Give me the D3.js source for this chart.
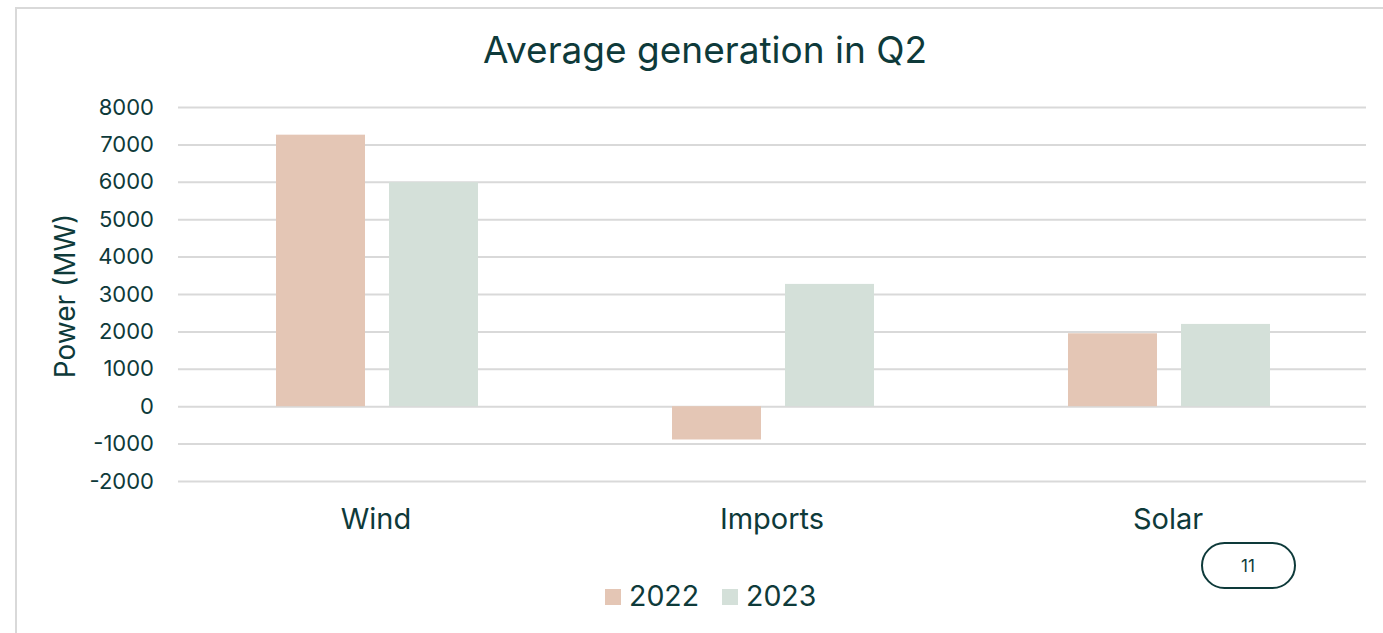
<!DOCTYPE html>
<html><head><meta charset="utf-8">
<script src="https://cdn.jsdelivr.net/npm/d3@7"></script>
<style>body{margin:0;background:#fff;}svg{display:block;font-family:Inter,"Open Sans",sans-serif;}</style>
</head><body><svg id="c" width="1383" height="633"></svg>
<script>
const categories = ["Wind","Imports","Solar"];
const seriesNames = ["2022","2023"];
const values2022 = [7260, -890, 1950];
const values2023 = [5990, 3270, 2200];
const yTicks = [-2000,-1000,0,1000,2000,3000,4000,5000,6000,7000,8000];
const colors = ["#e4c6b5","#d4e0d9"];
const textColor = "#0e3a3a";
const FONT = "Inter, 'Open Sans', sans-serif";

const svg = d3.select("#c");
// frame
svg.append("path").attr("d","M16,633 L16,8 L1383,8").attr("fill","none").attr("stroke","#d9d9d9").attr("stroke-width",2);

const x = d3.scaleBand().domain(categories).range([178,1366]);
const y = d3.scaleLinear().domain([-2000,8000]).range([481,107]);
const x1 = d3.scaleBand().domain(seriesNames).range([98,300]).paddingInner(24/113).paddingOuter(0);

svg.append("text").attr("x",705).attr("y",63).attr("text-anchor","middle").attr("font-size",37).attr("fill",textColor).text("Average generation in Q2");

const yAxis = svg.append("g").attr("transform","translate(178,0)")
  .call(d3.axisLeft(y).tickValues(yTicks).tickSize(-1188).tickFormat(d => String(d)).tickPadding(24));
yAxis.select(".domain").remove();
yAxis.selectAll("line").attr("stroke","#d9d9d9").attr("stroke-width",2);
yAxis.selectAll("text").attr("font-size",22).attr("fill",textColor).attr("font-family",FONT);

svg.append("text").attr("transform","translate(75,296) rotate(-90)").attr("text-anchor","middle")
  .attr("font-size",28).attr("fill",textColor).text("Power (MW)");

const data = categories.map((c,i)=>({cat:c, vals:[values2022[i], values2023[i]]}));
const g = svg.append("g");
data.forEach(d=>{
  d.vals.forEach((v,j)=>{
    g.append("rect").attr("x",x(d.cat)+x1(seriesNames[j])).attr("width",x1.bandwidth())
      .attr("y",y(Math.max(0,v))).attr("height",Math.abs(y(v)-y(0))).attr("fill",colors[j]);
  });
});

const xAxis = svg.append("g").attr("transform","translate(0,481)")
  .call(d3.axisBottom(x).tickSize(0).tickPadding(0));
xAxis.select(".domain").remove();
xAxis.selectAll("text").attr("dy",null).attr("y",48).attr("font-size",29).attr("fill",textColor).attr("font-family",FONT);

// legend
const leg = svg.append("g");
const legX = [605,722];
seriesNames.forEach((s,i)=>{
  leg.append("rect").attr("x",legX[i]).attr("y",589).attr("width",16).attr("height",16).attr("fill",colors[i]);
  leg.append("text").attr("x",legX[i]+24).attr("y",606).attr("font-size",28.5).attr("fill",textColor).text(s);
});

// page badge
svg.append("rect").attr("x",1202).attr("y",543).attr("width",93).attr("height",45).attr("rx",22.5)
  .attr("fill","none").attr("stroke",textColor).attr("stroke-width",2);
svg.append("text").attr("x",1248).attr("y",572).attr("text-anchor","middle").attr("font-size",17).attr("fill",textColor).text("11");
</script></body></html>
